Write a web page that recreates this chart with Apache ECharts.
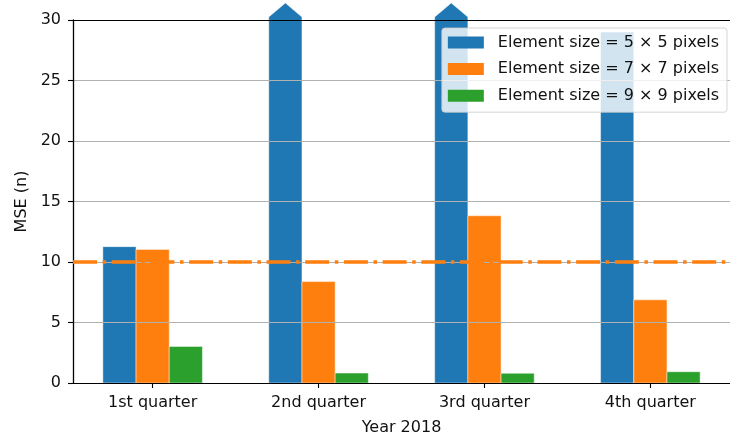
<!DOCTYPE html>
<html>
<head>
<meta charset="utf-8">
<script src="https://cdn.jsdelivr.net/npm/echarts@6/dist/echarts.min.js"></script>
<style>
  html, body { margin: 0; padding: 0; background: #fff; }
  #chart { width: 730px; height: 441px; }
</style>
</head>
<body>
<div id="chart"></div>
<script>
// Quarterly MSE for three structuring-element sizes
const categories = ['1st quarter', '2nd quarter', '3rd quarter', '4th quarter'];
const seriesNames = [
  'Element size = 5 × 5 pixels',
  'Element size = 7 × 7 pixels',
  'Element size = 9 × 9 pixels'
];
const size5 = [11.27, 41.5, 36.8, 29.0];   // 2nd and 3rd quarters run off the top of the scale
const size7 = [11.04, 8.38, 13.82, 6.87];
const size9 = [3.02, 0.82, 0.80, 0.93];
const threshold = 10;
const yTicks = [0, 5, 10, 15, 20, 25, 30];

const colors = ['#1f77b4', '#ff7f0e', '#2ca02c'];
const yMin = yTicks[0], yMax = yTicks[yTicks.length - 1];
const barW = 0.2;
const offsets = [-barW, 0, barW];
const xMin = -0.48, xMax = categories.length - 1 + 0.48;
const catPos = categories.map((_, i) => i);
const FONT = 'DejaVu Sans';
const FS = 16;
const TXT = '#111';

// Bars drawn through the axis coordinate system; values above the
// axis maximum are capped and finished with an arrow head.
function barRenderer(offset) {
  return function (params, api) {
    const i = api.value(0), v = api.value(1);
    const over = v > yMax;
    const a = api.coord([i + offset - barW / 2, Math.min(v, yMax)]);
    const b = api.coord([i + offset + barW / 2, yMin]);
    const x0 = a[0], x1 = b[0], yT = a[1], yB = b[1];
    const style = { fill: api.visual('color'), stroke: 'rgba(255,255,255,0.45)', lineWidth: 1 };
    if (over) {
      return {
        type: 'polygon',
        shape: { points: [[x0, yB], [x0, yT - 3], [(x0 + x1) / 2, yT - 17], [x1, yT - 3], [x1, yB]] },
        style: style
      };
    }
    return { type: 'rect', shape: { x: x0, y: yT, width: x1 - x0, height: yB - yT }, style: style };
  };
}

const barSeries = [size5, size7, size9].map((vals, k) => ({
  type: 'custom',
  name: seriesNames[k],
  clip: false,
  z: 1,
  itemStyle: { color: colors[k] },
  renderItem: barRenderer(offsets[k]),
  encode: { x: 0, y: 1 },
  data: vals.map((v, i) => [catPos[i], v])
}));

const chart = echarts.init(document.getElementById('chart'), null, { renderer: 'canvas' });
chart.setOption({
  animation: false,
  backgroundColor: '#fff',
  textStyle: { fontFamily: FONT },
  grid: { left: 73, right: -7, top: 20, bottom: 57, containLabel: false },
  legend: {
    data: seriesNames,
    orient: 'vertical',
    right: 3,
    top: 28,
    z: 10,
    icon: 'rect',
    itemWidth: 36,
    itemHeight: 12,
    itemGap: 10.6,
    padding: [6.5, 8, 8.5, 6],
    backgroundColor: 'rgba(255,255,255,0.8)',
    borderColor: 'rgba(204,204,204,0.8)',
    borderWidth: 1,
    borderRadius: 3,
    selectedMode: false,
    textStyle: { fontFamily: FONT, fontSize: FS, color: TXT, lineHeight: 16, padding: [0, 0, 0, 9] }
  },
  xAxis: [
    {
      type: 'value',
      position: 'bottom',
      min: xMin,
      max: xMax,
      z: 5,
      name: 'Year 2018',
      nameLocation: 'middle',
      nameGap: 37,
      nameTextStyle: { fontFamily: FONT, fontSize: FS, color: TXT },
      axisLine: { show: true, onZero: false, lineStyle: { color: '#000', width: 1.1 } },
      axisTick: { show: true, length: 5, customValues: catPos, lineStyle: { color: '#000', width: 1.1 } },
      axisLabel: {
        show: true, margin: 12, customValues: catPos,
        fontFamily: FONT, fontSize: FS, color: TXT,
        formatter: v => categories[Math.round(v)] || ''
      },
      splitLine: { show: false }
    },
    {
      type: 'value',
      position: 'top',
      min: xMin,
      max: xMax,
      z: 5,
      axisLine: { show: true, onZero: false, lineStyle: { color: '#000', width: 1.1 } },
      axisTick: { show: false },
      axisLabel: { show: false },
      splitLine: { show: false }
    }
  ],
  yAxis: {
    type: 'value',
    min: yMin,
    max: yMax,
    interval: 5,
    z: 3,
    name: 'MSE (n)',
    nameLocation: 'middle',
    nameGap: 42,
    nameTextStyle: { fontFamily: FONT, fontSize: FS, color: TXT },
    axisLine: { show: true, onZero: false, lineStyle: { color: '#000', width: 1.3 } },
    axisTick: { show: true, length: 5, lineStyle: { color: '#000', width: 1.1 } },
    axisLabel: { margin: 12, fontFamily: FONT, fontSize: FS, color: TXT },
    splitLine: { show: true, lineStyle: { color: '#b0b0b0', width: 1.1 } }
  },
  series: barSeries.concat([
    {
      type: 'line',
      name: 'threshold',
      xAxisIndex: 0,
      z: 4,
      symbol: 'none',
      silent: true,
      lineStyle: { color: '#ff7f0e', width: 3.4, type: [24, 5.6, 3.5, 5.6], cap: 'butt' },
      data: [[xMin, threshold], [xMax, threshold]]
    }
  ])
});
</script>
</body>
</html>
